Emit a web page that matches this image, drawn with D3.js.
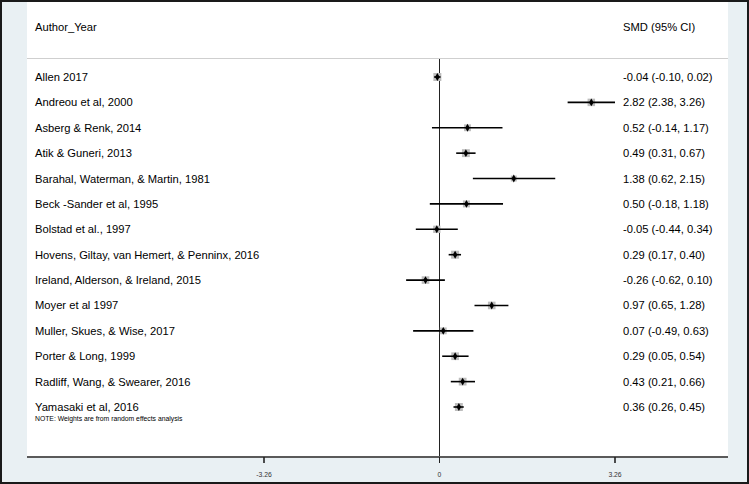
<!DOCTYPE html>
<html lang="en">
<head>
<meta charset="UTF-8">
<title>Forest plot</title>
<script src="https://cdn.jsdelivr.net/npm/d3@7"></script>
<style>
    body{ margin:0; background:#fff; }
    svg{ display:block; font-family:"Liberation Sans", Arial, sans-serif; }
</style>
</head>
<body>
<svg></svg>
<script>
    // study data
    const studies = ["Allen 2017", "Andreou et al, 2000", "Asberg & Renk, 2014", "Atik & Guneri, 2013",
        "Barahal, Waterman, & Martin, 1981", "Beck -Sander et al, 1995", "Bolstad et al., 1997",
        "Hovens, Giltay, van Hemert, & Penninx, 2016", "Ireland, Alderson, & Ireland, 2015",
        "Moyer et al 1997", "Muller, Skues, & Wise, 2017", "Porter & Long, 1999",
        "Radliff, Wang, & Swearer, 2016", "Yamasaki et al, 2016"];
    const smd   = [-0.04, 2.82, 0.52, 0.49, 1.38, 0.50, -0.05, 0.29, -0.26, 0.97, 0.07, 0.29, 0.43, 0.36];
    const lower = [-0.10, 2.38, -0.14, 0.31, 0.62, -0.18, -0.44, 0.17, -0.62, 0.65, -0.49, 0.05, 0.21, 0.26];
    const upper = [0.02, 3.26, 1.17, 0.67, 2.15, 1.18, 0.34, 0.40, 0.10, 1.28, 0.63, 0.54, 0.66, 0.45];
    const weights = [8.2, 7.2, 6.0, 8.0, 4.5, 6.2, 6.8, 8.2, 7.4, 7.4, 6.0, 7.6, 7.7, 8.1];
    const ticks = [-3.26, 0, 3.26];

    const width = 749, height = 484;
    const svg = d3.select("svg").attr("width", width).attr("height", height);

    // outer frame and white panel
    svg.append("rect").attr("x", 1).attr("y", 1).attr("width", width - 2).attr("height", height - 2)
        .attr("fill", "#e9f0f3").attr("stroke", "#1a1a1a").attr("stroke-width", 2);
    svg.append("rect").attr("x", 27).attr("y", 2).attr("width", 701).attr("height", 455)
        .attr("fill", "#fff");

    const x = d3.scaleLinear().domain([-3.26, 3.26]).range([264, 615]);
    const y = d3.scalePoint().domain(studies).range([77, 407]);
    const size = d3.scaleSqrt().domain([0, 8.2]).range([0, 8]);

    // header
    svg.append("text").attr("x", 35).attr("y", 31).attr("font-size", 11.2).text("Author_Year");
    svg.append("text").attr("x", 623).attr("y", 31).attr("font-size", 11.2).text("SMD (95% CI)");
    svg.append("line").attr("x1", 27).attr("x2", 728).attr("y1", 58.5).attr("y2", 58.5)
        .attr("stroke", "#cfcfcf").attr("stroke-width", 1);

    // zero line
    svg.append("line").attr("x1", x(0)).attr("x2", x(0)).attr("y1", 59).attr("y2", 457)
        .attr("stroke", "#222").attr("stroke-width", 1);

    const rows = svg.append("g").selectAll("g")
        .data(studies.map((s, i) => ({s, m: smd[i], lo: lower[i], hi: upper[i], w: weights[i]})))
        .join("g")
        .attr("transform", d => `translate(0,${y(d.s)})`);

    rows.append("rect")
        .attr("x", d => x(d.m) - size(d.w) / 2)
        .attr("y", d => -size(d.w) / 2)
        .attr("width", d => size(d.w))
        .attr("height", d => size(d.w))
        .attr("fill", "#bdbdbd");
    rows.append("line")
        .attr("x1", d => x(d.lo)).attr("x2", d => x(d.hi))
        .attr("stroke", "#000").attr("stroke-width", 1.6);
    rows.append("path")
        .attr("d", d3.symbol(d3.symbolDiamond, 18))
        .attr("transform", d => `translate(${x(d.m)},0)`)
        .attr("fill", "#000");

    rows.append("text").attr("x", 35).attr("y", 4).attr("font-size", 11.2)
        .text(d => d.s);
    rows.append("text").attr("x", 623).attr("y", 4).attr("font-size", 11.2)
        .text(d => `${d.m.toFixed(2)} (${d.lo.toFixed(2)}, ${d.hi.toFixed(2)})`);

    svg.append("text").attr("x", 35).attr("y", 421).attr("font-size", 6.8)
        .text("NOTE: Weights are from random effects analysis");

    // bottom axis
    const axis = svg.append("g").attr("transform", "translate(0,457)");
    axis.append("line").attr("x1", 27).attr("x2", 728)
        .attr("stroke", "#5a5a5a").attr("stroke-width", 2);
    axis.selectAll(".tk").data(ticks).join("line")
        .attr("x1", d => x(d)).attr("x2", d => x(d)).attr("y1", 0).attr("y2", 6)
        .attr("stroke", "#222").attr("stroke-width", d => d === 0 ? 1 : 1.6);
    axis.selectAll(".tl").data(ticks).join("text")
        .attr("x", d => x(d)).attr("y", 20).attr("text-anchor", "middle").attr("font-size", 6.8)
        .attr("fill", "#333")
        .text(d => d);
</script>
</body>
</html>
